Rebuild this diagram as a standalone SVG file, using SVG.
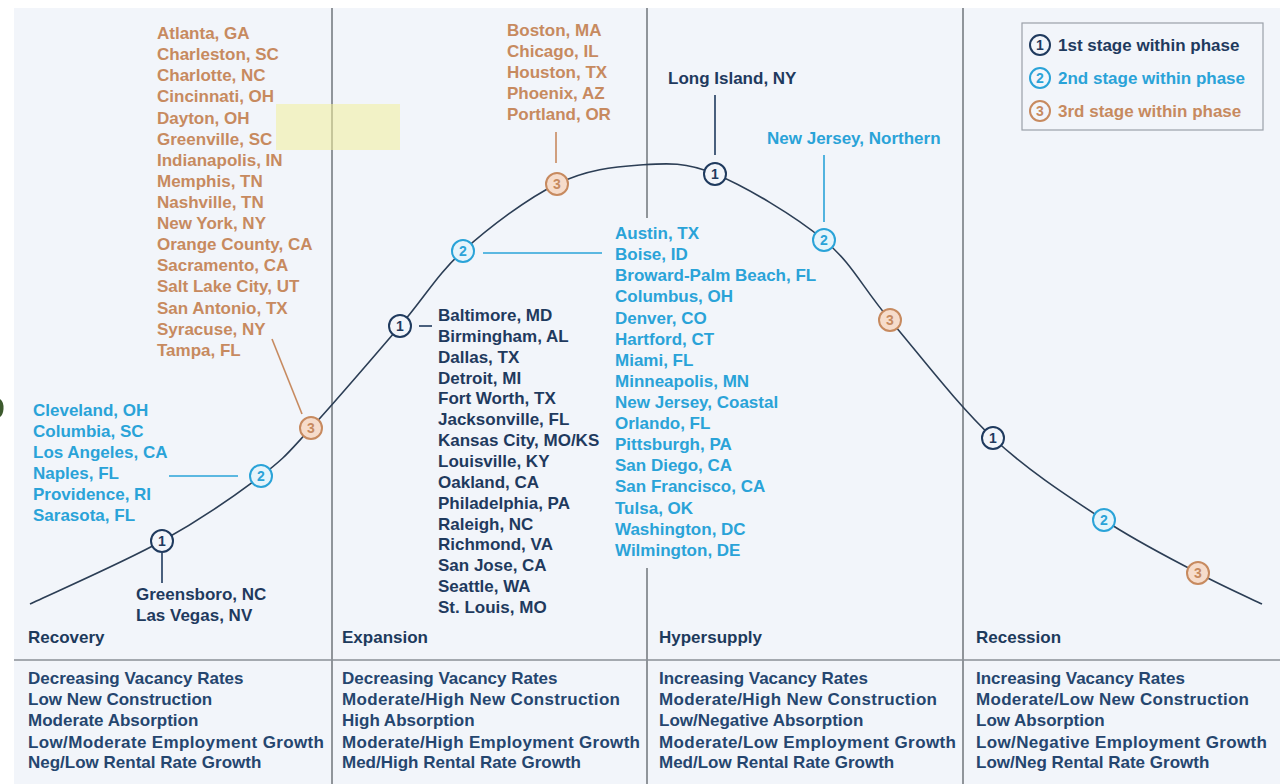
<svg xmlns="http://www.w3.org/2000/svg" width="1285" height="784" viewBox="0 0 1285 784">
<style>
text{font-family:"Liberation Sans",Arial,sans-serif;font-weight:bold;font-size:17px}
.or{fill:#c78a5f}
.bl{fill:#2aa3d8}
.dk{fill:#1f3a5e}
.ph{fill:#1d3a5c}
.ft{fill:#25466f}
.div{stroke:#6f747a;stroke-width:1.5;fill:none}
.c1{fill:#f2f5fa;stroke:#1f3a5e;stroke-width:2}
.c2{fill:#e6f4fb;stroke:#2aa3d8;stroke-width:2}
.c3{fill:#f6dccb;stroke:#c78a5f;stroke-width:2}
.n1{fill:#1f3a5e;font-size:14px;text-anchor:middle}
.n2{fill:#2aa3d8;font-size:14px;text-anchor:middle}
.n3{fill:#c78a5f;font-size:14px;text-anchor:middle}
.l1{stroke:#1f3a5e;stroke-width:1.6;fill:none}
.l2{stroke:#2aa3d8;stroke-width:1.6;fill:none}
.l3{stroke:#c78a5f;stroke-width:1.6;fill:none}
</style>
<rect x="0" y="0" width="1285" height="784" fill="#ffffff"/>
<rect x="14" y="8" width="1266" height="776" fill="#f2f5fa"/>
<path d="M0,399 Q4,402 3.5,409 Q3,415 0,417 Z" fill="#3d5a2e"/>
<g id="dividers">
<line class="div" x1="332" y1="8" x2="332" y2="784"/>
<line class="div" x1="647" y1="8" x2="647" y2="218"/>
<line class="div" x1="647" y1="568" x2="647" y2="784"/>
<line class="div" x1="963" y1="8" x2="963" y2="784"/>
<line x1="14" y1="660" x2="1280" y2="660" stroke="#8a8f96" stroke-width="1.5"/>
</g>
<rect x="276" y="104" width="124" height="46" fill="#f3ee9a" opacity="0.55"/>
<g id="connectors">
<path id="cycle-curve" d="M30,604 C52,593.5 123.5,562.3 162,541 C200.5,519.7 236.2,494.8 261,476 C285.8,457.2 287.8,453 311,428 C334.2,403 374.7,355.5 400,326 C425.3,296.5 436.8,274.7 463,251 C489.2,227.3 527.5,198.3 557,184 C586.5,169.7 613.7,166.7 640,165 C666.3,163.3 684.3,161.5 715,174 C745.7,186.5 794.8,215.7 824,240 C853.2,264.3 861.8,287 890,320 C918.2,353 957.3,404.7 993,438 C1028.7,471.3 1069.8,497.5 1104,520 C1138.2,542.5 1171.7,559 1198,573 C1224.3,587 1251.3,598.8 1262,604" fill="none" stroke="#2c3e55" stroke-width="1.6"/>
<line class="l1" x1="162" y1="553" x2="162" y2="583"/>
<line class="l2" x1="169" y1="476" x2="238" y2="476"/>
<line class="l3" x1="272" y1="339" x2="302" y2="414"/>
<line class="l1" x1="419" y1="326" x2="432" y2="326"/>
<line class="l2" x1="483" y1="253" x2="602" y2="253"/>
<line class="l3" x1="556" y1="132" x2="556" y2="163"/>
<line class="l1" x1="715" y1="95" x2="715" y2="155"/>
<line class="l2" x1="824" y1="155" x2="824" y2="222"/>
</g>
<g id="node-recovery-1"><circle class="c1" cx="162" cy="541" r="11"/><text class="n1" x="162" y="546">1</text></g>
<g id="node-recovery-2"><circle class="c2" cx="261" cy="476" r="11"/><text class="n2" x="261" y="481">2</text></g>
<g id="node-recovery-3"><circle class="c3" cx="311" cy="428" r="11"/><text class="n3" x="311" y="433">3</text></g>
<g id="node-expansion-1"><circle class="c1" cx="400" cy="326" r="11"/><text class="n1" x="400" y="331">1</text></g>
<g id="node-expansion-2"><circle class="c2" cx="463" cy="251" r="11"/><text class="n2" x="463" y="256">2</text></g>
<g id="node-expansion-3"><circle class="c3" cx="557" cy="184" r="11"/><text class="n3" x="557" y="189">3</text></g>
<g id="node-hypersupply-1"><circle class="c1" cx="715" cy="174" r="11"/><text class="n1" x="715" y="179">1</text></g>
<g id="node-hypersupply-2"><circle class="c2" cx="824" cy="240" r="11"/><text class="n2" x="824" y="245">2</text></g>
<g id="node-hypersupply-3"><circle class="c3" cx="890" cy="320" r="11"/><text class="n3" x="890" y="325">3</text></g>
<g id="node-recession-1"><circle class="c1" cx="993" cy="438" r="11"/><text class="n1" x="993" y="443">1</text></g>
<g id="node-recession-2"><circle class="c2" cx="1104" cy="520" r="11"/><text class="n2" x="1104" y="525">2</text></g>
<g id="node-recession-3"><circle class="c3" cx="1198" cy="573" r="11"/><text class="n3" x="1198" y="578">3</text></g>
<g id="list-recovery-3" class="or">
<text x="157" y="39">Atlanta, GA</text>
<text x="157" y="60">Charleston, SC</text>
<text x="157" y="81">Charlotte, NC</text>
<text x="157" y="102">Cincinnati, OH</text>
<text x="157" y="124">Dayton, OH</text>
<text x="157" y="145">Greenville, SC</text>
<text x="157" y="166">Indianapolis, IN</text>
<text x="157" y="187">Memphis, TN</text>
<text x="157" y="208">Nashville, TN</text>
<text x="157" y="229">New York, NY</text>
<text x="157" y="250">Orange County, CA</text>
<text x="157" y="271">Sacramento, CA</text>
<text x="157" y="292">Salt Lake City, UT</text>
<text x="157" y="314">San Antonio, TX</text>
<text x="157" y="335">Syracuse, NY</text>
<text x="157" y="356">Tampa, FL</text>
</g>
<g id="list-recovery-2" class="bl">
<text x="33" y="416">Cleveland, OH</text>
<text x="33" y="437">Columbia, SC</text>
<text x="33" y="458">Los Angeles, CA</text>
<text x="33" y="479">Naples, FL</text>
<text x="33" y="500">Providence, RI</text>
<text x="33" y="521">Sarasota, FL</text>
</g>
<g id="list-recovery-1" class="dk">
<text x="136" y="600">Greensboro, NC</text>
<text x="136" y="621">Las Vegas, NV</text>
</g>
<g id="list-expansion-1" class="dk">
<text x="438" y="321">Baltimore, MD</text>
<text x="438" y="342">Birmingham, AL</text>
<text x="438" y="363">Dallas, TX</text>
<text x="438" y="384">Detroit, MI</text>
<text x="438" y="404">Fort Worth, TX</text>
<text x="438" y="425">Jacksonville, FL</text>
<text x="438" y="446">Kansas City, MO/KS</text>
<text x="438" y="467">Louisville, KY</text>
<text x="438" y="488">Oakland, CA</text>
<text x="438" y="509">Philadelphia, PA</text>
<text x="438" y="530">Raleigh, NC</text>
<text x="438" y="550">Richmond, VA</text>
<text x="438" y="571">San Jose, CA</text>
<text x="438" y="592">Seattle, WA</text>
<text x="438" y="613">St. Louis, MO</text>
</g>
<g id="list-expansion-2" class="bl">
<text x="615" y="239">Austin, TX</text>
<text x="615" y="260">Boise, ID</text>
<text x="615" y="281">Broward-Palm Beach, FL</text>
<text x="615" y="302">Columbus, OH</text>
<text x="615" y="324">Denver, CO</text>
<text x="615" y="345">Hartford, CT</text>
<text x="615" y="366">Miami, FL</text>
<text x="615" y="387">Minneapolis, MN</text>
<text x="615" y="408">New Jersey, Coastal</text>
<text x="615" y="429">Orlando, FL</text>
<text x="615" y="450">Pittsburgh, PA</text>
<text x="615" y="471">San Diego, CA</text>
<text x="615" y="492">San Francisco, CA</text>
<text x="615" y="514">Tulsa, OK</text>
<text x="615" y="535">Washington, DC</text>
<text x="615" y="556">Wilmington, DE</text>
</g>
<g id="list-expansion-3" class="or">
<text x="507" y="36">Boston, MA</text>
<text x="507" y="57">Chicago, IL</text>
<text x="507" y="78">Houston, TX</text>
<text x="507" y="99">Phoenix, AZ</text>
<text x="507" y="120">Portland, OR</text>
</g>
<g id="list-hypersupply-1" class="dk"><text x="668" y="84">Long Island, NY</text></g>
<g id="list-hypersupply-2" class="bl"><text x="767" y="144">New Jersey, Northern</text></g>
<g id="legend">
<rect x="1022" y="23" width="241" height="107" fill="#f2f5fa" stroke="#9aa0a8" stroke-width="1.2"/>
<circle class="c1" cx="1040" cy="45" r="10"/><text class="n1" x="1040" y="50">1</text>
<text class="dk" x="1058" y="51">1st stage within phase</text>
<circle class="c2" cx="1040" cy="78" r="10" style="fill:#f2f5fa"/><text class="n2" x="1040" y="83">2</text>
<text class="bl" x="1058" y="84">2nd stage within phase</text>
<circle class="c3" cx="1040" cy="111" r="10" style="fill:#f2f5fa"/><text class="n3" x="1040" y="116">3</text>
<text class="or" x="1058" y="117">3rd stage within phase</text>
</g>
<g id="phase-recovery">
<text class="ph" x="28" y="643">Recovery</text>
<g class="ft">
<text x="28" y="684">Decreasing Vacancy Rates</text>
<text x="28" y="705">Low New Construction</text>
<text x="28" y="726">Moderate Absorption</text>
<text x="28" y="748" textLength="296">Low/Moderate Employment Growth</text>
<text x="28" y="768">Neg/Low Rental Rate Growth</text>
</g>
</g>
<g id="phase-expansion">
<text class="ph" x="342" y="643">Expansion</text>
<g class="ft">
<text x="342" y="684">Decreasing Vacancy Rates</text>
<text x="342" y="705" textLength="278">Moderate/High New Construction</text>
<text x="342" y="726">High Absorption</text>
<text x="342" y="748" textLength="298">Moderate/High Employment Growth</text>
<text x="342" y="768">Med/High Rental Rate Growth</text>
</g>
</g>
<g id="phase-hypersupply">
<text class="ph" x="659" y="643">Hypersupply</text>
<g class="ft">
<text x="659" y="684">Increasing Vacancy Rates</text>
<text x="659" y="705" textLength="278">Moderate/High New Construction</text>
<text x="659" y="726">Low/Negative Absorption</text>
<text x="659" y="748" textLength="297">Moderate/Low Employment Growth</text>
<text x="659" y="768">Med/Low Rental Rate Growth</text>
</g>
</g>
<g id="phase-recession">
<text class="ph" x="976" y="643">Recession</text>
<g class="ft">
<text x="976" y="684">Increasing Vacancy Rates</text>
<text x="976" y="705" textLength="273">Moderate/Low New Construction</text>
<text x="976" y="726">Low Absorption</text>
<text x="976" y="748" textLength="291">Low/Negative Employment Growth</text>
<text x="976" y="768">Low/Neg Rental Rate Growth</text>
</g>
</g>
</svg>
